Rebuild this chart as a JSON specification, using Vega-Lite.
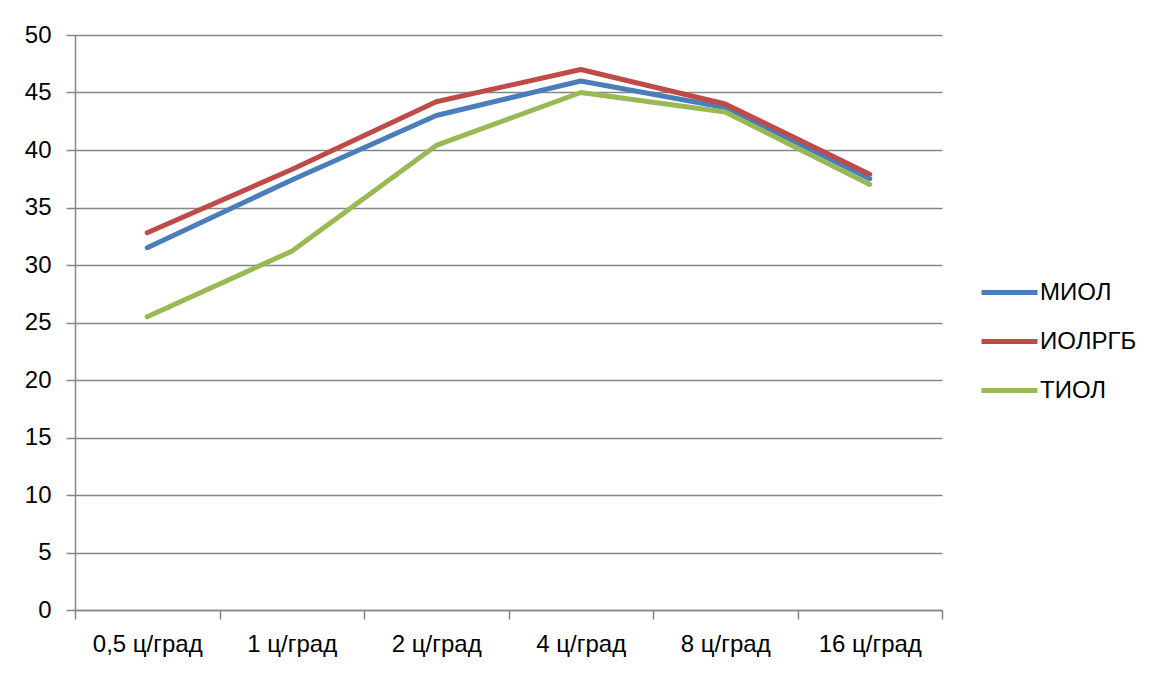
{
  "$schema": "https://vega.github.io/schema/vega-lite/v6.json",
  "autosize": "none",
  "width": 867,
  "height": 575,
  "padding": {"left": 75, "top": 35, "right": 219, "bottom": 65},
  "data": {
    "values": [
      {"freq": "0,5 ц/град", "series": "МИОЛ", "value": 31.5},
      {"freq": "1 ц/град", "series": "МИОЛ", "value": 37.4},
      {"freq": "2 ц/град", "series": "МИОЛ", "value": 43.0},
      {"freq": "4 ц/град", "series": "МИОЛ", "value": 46.0},
      {"freq": "8 ц/град", "series": "МИОЛ", "value": 43.7},
      {"freq": "16 ц/град", "series": "МИОЛ", "value": 37.5},
      {"freq": "0,5 ц/град", "series": "ИОЛРГБ", "value": 32.8},
      {"freq": "1 ц/град", "series": "ИОЛРГБ", "value": 38.3},
      {"freq": "2 ц/град", "series": "ИОЛРГБ", "value": 44.2},
      {"freq": "4 ц/град", "series": "ИОЛРГБ", "value": 47.0},
      {"freq": "8 ц/град", "series": "ИОЛРГБ", "value": 44.0},
      {"freq": "16 ц/град", "series": "ИОЛРГБ", "value": 37.9},
      {"freq": "0,5 ц/град", "series": "ТИОЛ", "value": 25.5},
      {"freq": "1 ц/град", "series": "ТИОЛ", "value": 31.2},
      {"freq": "2 ц/град", "series": "ТИОЛ", "value": 40.4},
      {"freq": "4 ц/град", "series": "ТИОЛ", "value": 45.0},
      {"freq": "8 ц/град", "series": "ТИОЛ", "value": 43.3},
      {"freq": "16 ц/град", "series": "ТИОЛ", "value": 37.0}
    ]
  },
  "mark": {"type": "line", "strokeWidth": 5, "strokeCap": "round", "strokeJoin": "round"},
  "encoding": {
    "x": {
      "field": "freq",
      "type": "ordinal",
      "sort": ["0,5 ц/град", "1 ц/град", "2 ц/град", "4 ц/град", "8 ц/град", "16 ц/град"],
      "scale": {"type": "band", "paddingInner": 0, "paddingOuter": 0},
      "axis": {
        "title": null,
        "labelAngle": 0,
        "tickBand": "extent",
        "tickSize": 9,
        "tickWidth": 1.5,
        "tickColor": "#868686",
        "domainColor": "#868686",
        "domainWidth": 1.5,
        "labelFontSize": 24,
        "labelColor": "#000000",
        "labelPadding": 13,
        "grid": false
      }
    },
    "y": {
      "field": "value",
      "type": "quantitative",
      "scale": {"domain": [0, 50], "nice": false},
      "axis": {
        "title": null,
        "values": [0, 5, 10, 15, 20, 25, 30, 35, 40, 45, 50],
        "grid": true,
        "gridColor": "#868686",
        "gridWidth": 1.5,
        "tickSize": 9,
        "tickWidth": 1.5,
        "tickColor": "#868686",
        "domainColor": "#868686",
        "domainWidth": 1.5,
        "labelFontSize": 24,
        "labelColor": "#000000",
        "labelPadding": 15
      }
    },
    "color": {
      "field": "series",
      "type": "nominal",
      "scale": {
        "domain": ["МИОЛ", "ИОЛРГБ", "ТИОЛ"],
        "range": ["#4A7EBB", "#BE4B48", "#98B954"]
      },
      "legend": {
        "title": null,
        "orient": "none",
        "legendX": 904,
        "legendY": 227,
        "symbolType": "stroke",
        "symbolSize": 3136,
        "symbolStrokeWidth": 5,
        "labelFontSize": 24,
        "labelColor": "#000000",
        "labelOffset": 0,
        "rowPadding": 6
      }
    }
  },
  "config": {
    "view": {"stroke": null},
    "font": "Liberation Sans"
  }
}
